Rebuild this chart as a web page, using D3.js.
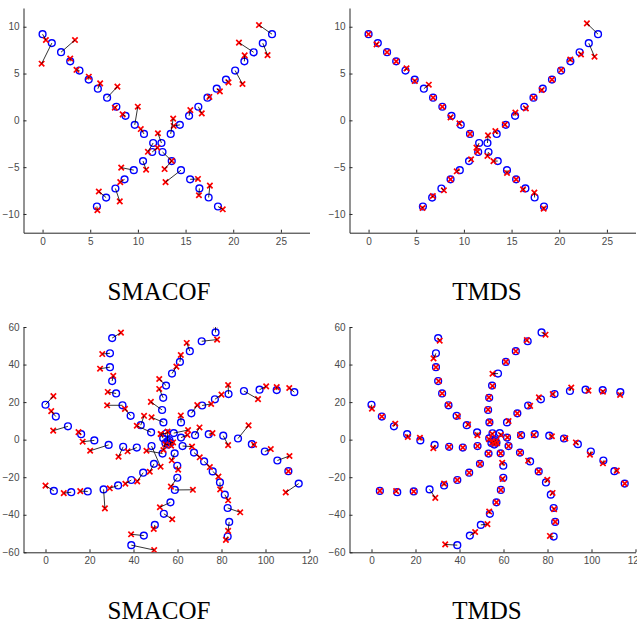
<!DOCTYPE html>
<html><head><meta charset="utf-8">
<script src="https://cdn.jsdelivr.net/npm/d3@7"></script>
<style>body{margin:0;background:#fff} svg{display:block}</style>
</head><body>
<svg id="c" width="637" height="623"></svg>
<script>
// ---- X-shape data (top row) ----
const topTrue = [
[0,9.2],[0.97,8.25],[1.94,7.28],[2.9,6.3],[3.87,5.32],[4.84,4.35],[5.8,3.38],[6.77,2.42],[7.74,1.45],[8.7,0.48],[9.67,-0.48],[10.64,-1.45],[11.6,-2.42],[12.58,-3.38],[13.55,-4.35],[14.52,-5.32],[15.48,-6.3],[16.45,-7.27],[17.42,-8.24],[18.4,-9.2],
[5.7,-9.2],[6.67,-8.25],[7.64,-7.28],[8.6,-6.3],[9.57,-5.32],[10.54,-4.35],[11.5,-3.38],[12.47,-2.42],[13.44,-1.45],[14.4,-0.48],[15.37,0.48],[16.34,1.45],[17.3,2.42],[18.27,3.38],[19.24,4.35],[20.2,5.32],[21.17,6.3],[22.14,7.27],[23.1,8.24],[24.07,9.2]];
const topSmacof = [
[0.35,8.58],[-0.1,6.05],[3.4,8.58],[2.9,6.6],[3.56,5.4],[4.85,4.66],[6.04,3.95],[7.85,3.6],[7.58,1.35],[8.4,0.64],[9.99,1.46],[10.3,-0.93],[11.05,-3.36],[13.55,-4.33],[12.8,-5.2],[12.9,-6.6],[16.3,-6.26],[16.4,-8.0],[17.55,-6.97],[18.9,-9.5],
[5.75,-9.6],[5.9,-7.6],[8.1,-8.65],[8.15,-6.6],[8.25,-5.05],[10.86,-5.27],[12.05,-2.92],[12.1,-1.38],[13.7,0.18],[13.75,-0.6],[15.5,1.1],[16.7,0.75],[17.5,2.5],[18.6,3.1],[19.5,4.06],[20.97,3.88],[21.2,6.94],[20.6,8.3],[23.6,6.97],[22.7,10.18]];
const topTmds = [
[0,9.2],[0.84,8.11],[1.94,7.28],[2.9,6.3],[3.98,5.55],[4.85,4.2],[6.32,3.81],[6.77,2.42],[7.74,1.45],[8.6,0.32],[9.53,-0.32],[10.64,-1.45],[11.32,-2.91],[12.47,-3.8],[13.1,-4.35],[14.52,-5.62],[15.48,-6.3],[16.2,-7.37],[17.39,-7.72],[18.37,-9.43],
[5.66,-9.36],[6.74,-8.08],[7.9,-7.47],[8.6,-6.3],[9.25,-5.44],[10.75,-4.16],[11.42,-3.34],[12.53,-1.6],[13.3,-1.15],[14.3,-0.46],[15.4,0.82],[16.5,1.28],[17.3,2.42],[18.16,3.24],[19.24,4.35],[20.2,5.37],[21.16,6.5],[22.28,7.05],[23.7,6.8],[22.9,10.36]];

// ---- spiral data (bottom row) ----
const botTrue = [
[0,18.6],[4.7,12.3],[10.2,7.1],[16.2,2.9],[22.2,-0.4],[28.7,-2.8],[35.3,-3.8],[41.5,-4.2],[48.2,-3.4],
[30.3,54.1],[29.3,46],[29.3,38.6],[30.3,31.2],[32.1,24.6],[35,18.3],[38.7,12.7],[43.3,7.7],[48,3.9],
[77.3,57.1],[71,52.4],[65.6,47.1],[61.1,41.4],[57.5,35.2],[54.8,28.8],[53.5,22.3],[53,15.8],[53.6,9.2],[55,3.4],
[113.1,25.3],[105.1,26.4],[97.3,26.6],[90.2,25.9],[83.2,24.3],[77,21.5],[71.2,18.2],[66.3,14],[61.6,9.2],[58.3,3.5],
[115.1,-23.4],[110.4,-16.8],[105.4,-11.1],[99.7,-6.3],[93.8,-2.4],[87.5,0.6],[80.8,2.1],[74.2,2.9],[68,2.4],[61.6,1.1],
[82.8,-51.6],[83.5,-43.8],[82.8,-36.4],[81.5,-29.3],[79.3,-22.8],[76,-16.9],[72.1,-11.6],[67.5,-6.9],[62.3,-3.4],
[39,-56.2],[44.7,-51.1],[49.7,-45.4],[53.8,-39.5],[56.8,-33.4],[58.8,-26.8],[59.9,-20.3],[59.9,-13.9],[58.7,-7.3],
[3.8,-27.3],[11.7,-28],[19.2,-27.6],[26.4,-26.5],[33,-24.4],[39,-21.5],[44.4,-17.6],[49.3,-12.9],[53.2,-7.4],
[53.5,0.7],[54.5,-1.8],[55.5,-0.8],[56.3,-0.3],[56.8,-1.7],[55.8,-2.6]];
const botSmacof = [
[3.6,23.2],[2.6,15.2],[3.5,4.8],[15,4.0],[16.9,-1.1],[20.3,-5.9],[33.2,-9.1],[37.3,-6.2],[52.3,-14.4],
[34.3,57],[25.8,45.6],[24.8,37.8],[30.8,34],[28.3,25.4],[28,18.3],[36.1,16.4],[44.8,12.7],[41.5,7.4],
[77.3,61.5],[78,53.3],[64.2,51.5],[61.5,45.1],[59.5,38.9],[51.7,32.3],[51.7,27],[47.9,20.1],[48.2,11.9],[52.4,3],
[110.8,27.5],[105.1,28],[100.3,28.4],[96.6,21.6],[83,29.1],[80,24],[75.3,19],[69,18.4],[61.5,12.9],[64.8,5.1],
[109.2,-28.1],[110.4,-16.8],[110.9,-8.7],[102.4,-5],[94.8,-2.7],[92.3,7.6],[83,-2.9],[75.9,3.5],[70,6.5],[64.5,2.5],
[82,-53.4],[83,-48.6],[88.5,-38.7],[83,-32.3],[79.4,-26.5],[78.6,-19.7],[74.7,-14.6],[70.1,-9.4],[66.6,-3.7],
[49.4,-58.8],[38.9,-50.4],[49.2,-47.6],[57.6,-42.4],[52,-36],[67,-26.7],[57,-25],[60.3,-16],[57.4,-11],
[0,-24.5],[8.3,-28.5],[15.8,-27.4],[27,-36.6],[29.2,-25.9],[36.3,-23.5],[41.7,-22.2],[47.4,-17.1],[45.9,-5.9],
[52.4,3.0],[53.6,-5.5],[55.5,4.3],[57.1,-3.2],[58,-1.5],[54.5,-2.5]];
const botTmds = [
[0.2,16.5],[4.7,12.3],[10.8,8.5],[16.5,1.4],[22,1.0],[28.1,-4.5],[35.3,-3.8],[41.5,-4.2],[48.2,-3.4],
[31,52.7],[28.2,43.3],[29.3,38.6],[30.5,31.2],[32.1,24.6],[35,18.6],[39.2,12.4],[43.9,8.1],[48.1,2.4],
[79.1,55.9],[70.6,53],[65.6,47.1],[61.1,41.4],[55,35.1],[55,28.6],[53.4,22.5],[53,16],[53.8,9.4],[54.9,3.0],
[113,23.8],[105.2,25.5],[98.6,26.1],[90.8,27.7],[82.4,24.3],[76.1,22.5],[72.1,18.0],[66.3,14],[62.3,9.9],[58.8,2.5],
[115.1,-23.4],[111.5,-16.5],[105.2,-12.6],[99.3,-8.0],[92.9,-1.5],[88.1,0.7],[82,1.8],[73.8,2.5],[67.6,2.5],[61.8,1.2],
[81.1,-51.3],[83.5,-43.8],[83,-37],[82.3,-28.4],[79.9,-21.4],[76,-16.9],[71.2,-11.2],[67.5,-6.9],[62.3,-3.4],
[33.5,-55.8],[47.1,-49.2],[52.7,-45],[53.5,-38.3],[56.8,-33.4],[58.8,-26.8],[59.6,-20.9],[59.4,-12.3],[58.7,-7.3],
[3.8,-27.3],[11.2,-27.4],[19.2,-27.6],[29,-31],[33,-23.4],[39,-21.5],[44.4,-17.6],[49.3,-12.9],[53.2,-7.4],
[53.4,0.3],[54.8,-1.5],[55.6,-1.2],[56.6,-0.6],[57.1,-1.9],[55.9,-2.2]];

const topXTicks = [0,5,10,15,20,25];
const topYTicks = [-10,-5,0,5,10];
const botXTicks = [0,20,40,60,80,100,120];
const botYTicks = [-60,-40,-20,0,20,40,60];
const titles = ["SMACOF","TMDS","SMACOF","TMDS"];

const svg = d3.select("#c");
const defs = svg.append("defs");

const panels = [
  {truth: topTrue, est: topSmacof, xd:[-2,28], yd:[-12,12], xt: topXTicks, yt: topYTicks, xr:[23.5,309.5], yr:[232.7,8], title: titles[0], tx:159, ty:300},
  {truth: topTrue, est: topTmds,   xd:[-2,28], yd:[-12,12], xt: topXTicks, yt: topYTicks, xr:[349.5,635.5], yr:[232.7,8], title: titles[1], tx:487, ty:300},
  {truth: botTrue, est: botSmacof, xd:[-10,120], yd:[-60,60], xt: botXTicks, yt: botYTicks, xr:[23.5,309.5], yr:[552.3,327], title: titles[2], tx:159, ty:619},
  {truth: botTrue, est: botTmds,   xd:[-10,120], yd:[-60,60], xt: botXTicks, yt: botYTicks, xr:[349.5,635.5], yr:[552.3,327], title: titles[3], tx:487, ty:619}
];

panels.forEach((p, i) => {
  const x = d3.scaleLinear().domain(p.xd).range(p.xr);
  const y = d3.scaleLinear().domain(p.yd).range(p.yr);
  const g = svg.append("g");

  const cid = "clip" + i;
  defs.append("clipPath").attr("id", cid).append("rect")
    .attr("x", p.xr[0]).attr("y", p.yr[1])
    .attr("width", p.xr[1] - p.xr[0]).attr("height", p.yr[0] - p.yr[1]);

  const xa = g.append("g").attr("transform", `translate(0,${p.yr[0]})`)
    .call(d3.axisBottom(x).tickValues(p.xt).tickSizeInner(-3).tickSizeOuter(0).tickPadding(5));
  const ya = g.append("g").attr("transform", `translate(${p.xr[0]},0)`)
    .call(d3.axisLeft(y).tickValues(p.yt).tickSizeInner(-3).tickSizeOuter(0).tickPadding(4));
  [xa, ya].forEach(a => {
    a.select(".domain").attr("stroke", "#262626").attr("stroke-width", 1);
    a.selectAll(".tick line").attr("stroke", "#262626");
    a.selectAll(".tick text").attr("fill", "#4a4a4a")
      .style("font-family", "'Liberation Sans', Arial, sans-serif").style("font-size", "10px");
  });

  const plot = g.append("g").attr("clip-path", `url(#${cid})`);
  const pairs = p.truth.map((t, k) => ({t, e: p.est[k]}));

  plot.selectAll("circle").data(p.truth).join("circle")
    .attr("cx", d => x(d[0])).attr("cy", d => y(d[1])).attr("r", 3.4)
    .attr("fill", "none").attr("stroke", "#0000ff").attr("stroke-width", 1.4);

  const s = 2.7;
  plot.selectAll("path.x").data(p.est).join("path").attr("class", "x")
    .attr("d", d => {
      const cx = x(d[0]), cy = y(d[1]);
      return `M${cx - s},${cy - s}L${cx + s},${cy + s}M${cx - s},${cy + s}L${cx + s},${cy - s}`;
    })
    .attr("stroke", "#ff0000").attr("stroke-width", 1.7).attr("fill", "none");

  plot.selectAll("line.link").data(pairs).join("line").attr("class", "link")
    .attr("x1", d => x(d.t[0])).attr("y1", d => y(d.t[1]))
    .attr("x2", d => x(d.e[0])).attr("y2", d => y(d.e[1]))
    .attr("stroke", "#000").attr("stroke-width", 0.8);

  svg.append("text").attr("x", p.tx).attr("y", p.ty).attr("text-anchor", "middle")
    .style("font-family", "'Liberation Serif', 'Times New Roman', serif").style("font-size", "25px")
    .attr("fill", "#000").text(p.title);
});
</script>
</body></html>
